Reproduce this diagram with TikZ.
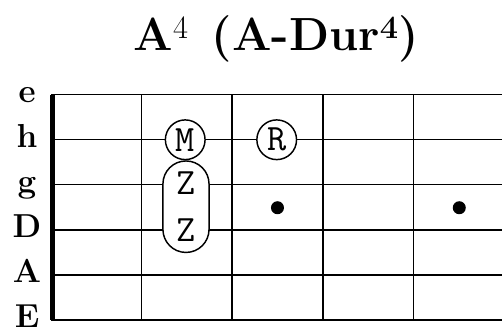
\documentclass[tikz,border=0pt]{standalone}
\usepackage{fontspec}
\usepackage{xcolor}
\usepackage{tikz}
\usetikzlibrary{calc}

\begin{document}
\begin{tikzpicture}[line join=round,
    finger/.style={circle,draw,line width=1.1pt,minimum size=1.05cm,inner sep=0pt,font=\fontsize{28}{32}\selectfont\ttfamily},
    barre/.style={draw,line width=1.1pt,rounded corners=0.61cm,minimum width=1.22cm,minimum height=2.42cm,inner sep=0pt,align=center,font=\fontsize{28}{36}\selectfont\ttfamily},
    strname/.style={anchor=base,font=\fontsize{25}{30}\selectfont\bfseries}]
  \useasboundingbox (-1.350,-6.120) rectangle (11.930,2.505);
  \coordinate (NT) at (0.040,0.000);
  \coordinate (NB) at (0.040,-5.960);
  \draw[line width=1pt] (0.000,0.000) -- (12.000,0.000);
  \draw[line width=1pt] (0.000,-1.192) -- (12.000,-1.192);
  \draw[line width=1pt] (0.000,-2.384) -- (12.000,-2.384);
  \draw[line width=1pt] (0.000,-3.576) -- (12.000,-3.576);
  \draw[line width=1pt] (0.000,-4.768) -- (12.000,-4.768);
  \draw[line width=1pt] (0.000,-5.960) -- (12.000,-5.960);
  \draw[line width=1.1pt] (2.400,0.000) -- (2.400,-5.960);
  \draw[line width=1.1pt] (4.790,0.000) -- (4.790,-5.960);
  \draw[line width=1.1pt] (7.190,0.000) -- (7.190,-5.960);
  \draw[line width=1.1pt] (9.590,0.000) -- (9.590,-5.960);
  \draw[line width=3.75pt] (NT) -- (NB);
  \fill (5.990,-2.990) circle (0.172);
  \fill (10.800,-2.990) circle (0.172);
  \node[finger,fill=white] (fM) at (3.550,-1.192) {M};
  \node[finger,fill=white] (fR) at (5.970,-1.192) {R};
  \node[barre,fill=white] (fZ) at (3.570,-2.963) {Z\\Z};
  \node[strname] (le) at (-0.635,-0.210) {e};
  \node[strname] (lh) at (-0.635,-1.402) {h};
  \node[strname] (lg) at (-0.635,-2.594) {g};
  \node[strname] (lD) at (-0.635,-3.786) {D};
  \node[strname] (lA) at (-0.635,-4.978) {A};
  \node[strname] (lE) at (-0.635,-6.170) {E};
  \node[anchor=base,font=\fontsize{35}{40}\selectfont\bfseries] (title) at (5.960,1.180) {A\textsuperscript{\mdseries 4}\hspace{0.5em}(A-Dur\textsuperscript{4})};
\end{tikzpicture}
\end{document}
